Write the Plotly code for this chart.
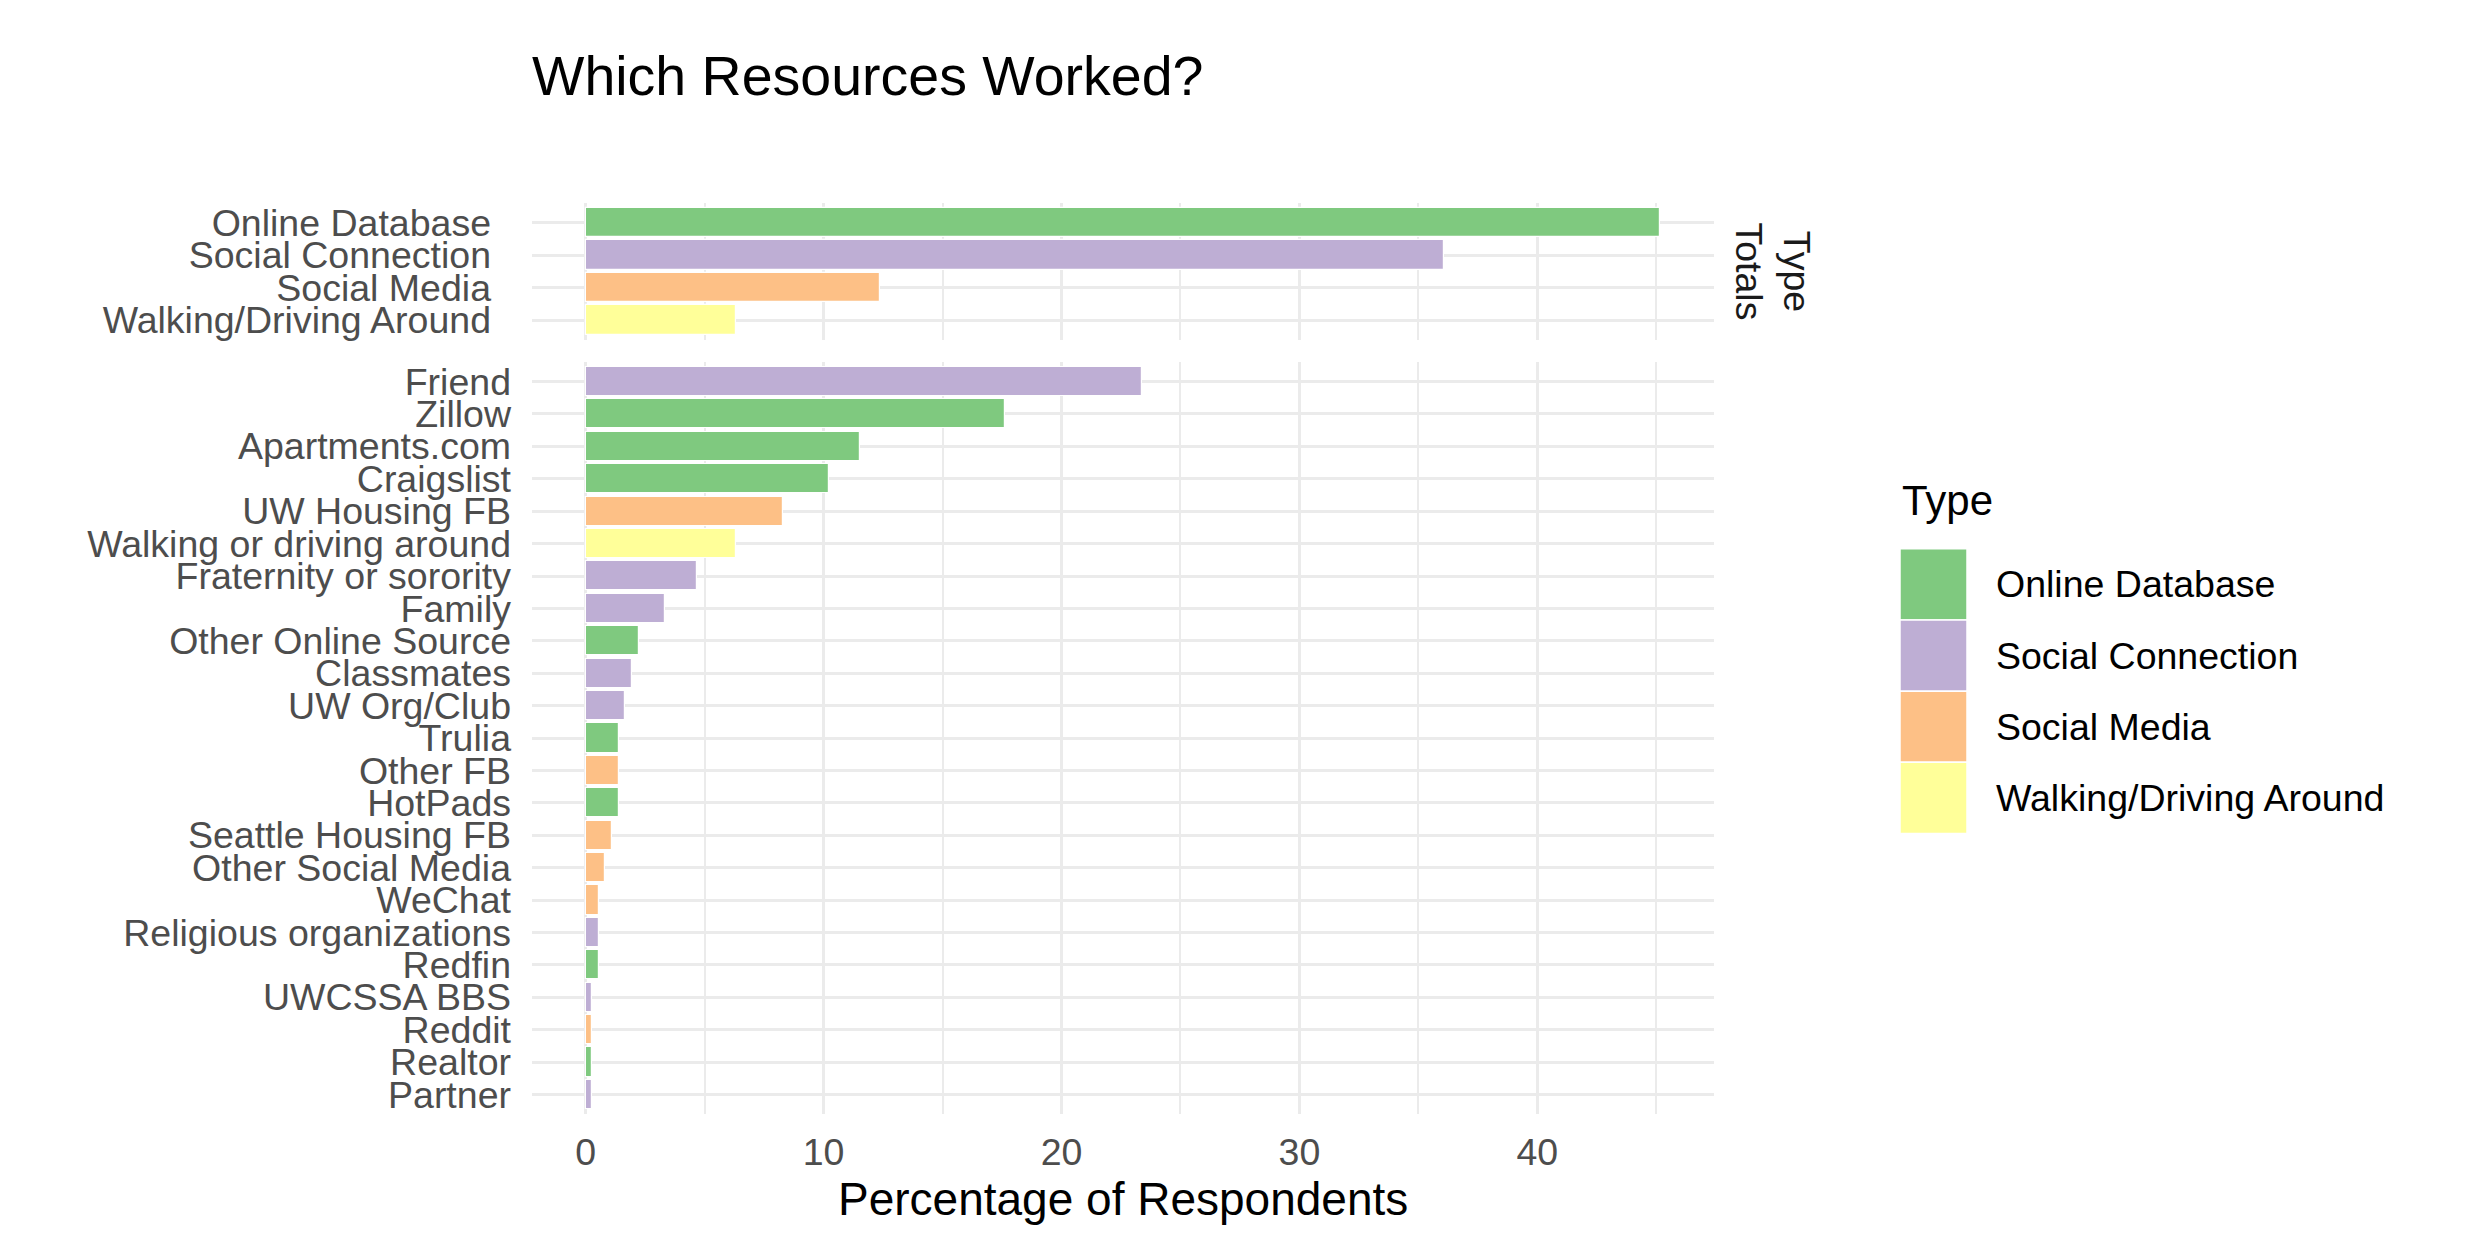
import plotly.graph_objects as go

# ---------------- data ----------------
type_names = ["Online Database", "Social Connection", "Social Media", "Walking/Driving Around"]
type_colors = ["#7FC97F", "#BEAED4", "#FDC086", "#FFFF99"]

total_values = [45.17, 36.09, 12.39, 6.30]

resource_names = [
    "Friend", "Zillow", "Apartments.com", "Craigslist", "UW Housing FB",
    "Walking or driving around", "Fraternity or sorority", "Family",
    "Other Online Source", "Classmates", "UW Org/Club", "Trulia", "Other FB",
    "HotPads", "Seattle Housing FB", "Other Social Media", "WeChat",
    "Religious organizations", "Redfin", "UWCSSA BBS", "Reddit", "Realtor", "Partner",
]
resource_types = [
    "Social Connection", "Online Database", "Online Database", "Online Database", "Social Media",
    "Walking/Driving Around", "Social Connection", "Social Connection",
    "Online Database", "Social Connection", "Social Connection", "Online Database", "Social Media",
    "Online Database", "Social Media", "Social Media", "Social Media",
    "Social Connection", "Online Database", "Social Connection", "Social Media", "Online Database", "Social Connection",
]
resource_values = [
    23.40, 17.63, 11.55, 10.21, 8.28,
    6.30, 4.69, 3.33,
    2.23, 1.93, 1.67, 1.40, 1.40,
    1.40, 1.12, 0.83, 0.56,
    0.56, 0.56, 0.28, 0.28, 0.28, 0.28,
]
x_ticks = [0, 10, 20, 30, 40]

title_text = "Which Resources Worked?"
x_title = "Percentage of Respondents"
legend_title = "Type"
strip_text = "Type<br>Totals"

# ---------------- layout geometry (pixels) ----------------
W, H = 2470, 1256
PL, PR, PT, PB = 532, 1714, 203, 1114.5
TOP_BOTTOM, BOT_TOP = 339.7, 362.2
PW, PH = PR - PL, PB - PT

def px_x(x):
    return (x - PL) / PW

def px_y(y):
    return (PB - y) / PH

FONT = "Liberation Sans, Arial, sans-serif"
GRID = "#EBEBEB"
TICK_COL = "#4D4D4D"
color_of = dict(zip(type_names, type_colors))

xmax = max(total_values + resource_values)
xrange = [-0.05 * xmax, xmax * 1.05]

fig = go.Figure()
fig.add_trace(go.Bar(
    x=total_values, y=type_names, orientation="h",
    marker=dict(color=[color_of[t] for t in type_names], line=dict(color="white", width=1.2)),
    width=0.9, xaxis="x", yaxis="y", showlegend=False,
))
fig.add_trace(go.Bar(
    x=resource_values, y=resource_names, orientation="h",
    marker=dict(color=[color_of[t] for t in resource_types], line=dict(color="white", width=1.2)),
    width=0.9, xaxis="x2", yaxis="y2", showlegend=False,
))

common_x = dict(
    range=xrange, tickmode="array", tickvals=x_ticks, showgrid=True, gridcolor=GRID, gridwidth=3,
    zeroline=False, showline=False, ticks="",
    minor=dict(dtick=5, tick0=0, showgrid=True, gridcolor=GRID, gridwidth=1.5),
    tickfont=dict(family=FONT, size=37.5, color=TICK_COL),
)
common_y = dict(
    type="category", showgrid=True, gridcolor=GRID, gridwidth=3,
    zeroline=False, showline=False, ticks="", tickmode="array",
    tickfont=dict(family=FONT, size=37.5, color=TICK_COL),
)

fig.update_layout(
    width=W, height=H,
    margin=dict(l=PL, r=W - PR, t=PT, b=H - PB, pad=0),
    paper_bgcolor="white", plot_bgcolor="white",
    bargap=0,
    xaxis=dict(common_x, domain=[0, 1], anchor="y", showticklabels=False),
    yaxis=dict(common_y, domain=[px_y(TOP_BOTTOM), 1], anchor="x",
               categoryorder="array", categoryarray=type_names[::-1],
               tickvals=type_names, ticktext=type_names,
               range=[-0.6, len(type_names) - 0.4], ticklabelstandoff=40),
    xaxis2=dict(common_x, domain=[0, 1], anchor="y2", ticklabelstandoff=12),
    yaxis2=dict(common_y, domain=[0, px_y(BOT_TOP)], anchor="x2",
                categoryorder="array", categoryarray=resource_names[::-1],
                tickvals=resource_names, ticktext=resource_names,
                range=[-0.6, len(resource_names) - 0.4], ticklabelstandoff=20),
    title=dict(text=title_text, x=px_x(532), xref="paper", xanchor="left",
               y=1 - 76 / H, yref="container", yanchor="middle",
               font=dict(family=FONT, size=55.5, color="black")),
    font=dict(family=FONT),
)

annotations = [
    dict(text=x_title, x=0.5, y=px_y(1200), xref="paper", yref="paper",
         xanchor="center", yanchor="middle", showarrow=False,
         font=dict(family=FONT, size=46, color="black")),
    dict(text=strip_text, x=px_x(1773), y=px_y(271.5), xref="paper", yref="paper",
         xanchor="center", yanchor="middle", showarrow=False, textangle=90,
         font=dict(family=FONT, size=37.5, color="#1A1A1A")),
    dict(text=legend_title, x=px_x(1900), y=px_y(501), xref="paper", yref="paper",
         xanchor="left", yanchor="middle", showarrow=False,
         font=dict(family=FONT, size=42, color="black")),
]

# custom legend with large keys
KEY_X0, KEY_X1, KEY_Y0, KEY_H = 1900, 1967, 549, 71.2
shapes = []
for i, (name, col) in enumerate(zip(type_names, type_colors)):
    y0 = KEY_Y0 + i * KEY_H
    shapes.append(dict(type="rect", xref="paper", yref="paper",
                       x0=px_x(KEY_X0), x1=px_x(KEY_X1), y0=px_y(y0), y1=px_y(y0 + KEY_H),
                       fillcolor=col, line=dict(color="white", width=1.5), layer="above"))
    annotations.append(dict(text=name, x=px_x(1994), y=px_y(y0 + KEY_H / 2),
                            xref="paper", yref="paper", xanchor="left", yanchor="middle",
                            showarrow=False, font=dict(family=FONT, size=37.5, color="black")))

fig.update_layout(annotations=annotations, shapes=shapes)

fig.write_html("out.html", config={"displayModeBar": False},
               post_script="document.body.style.margin='0';")
